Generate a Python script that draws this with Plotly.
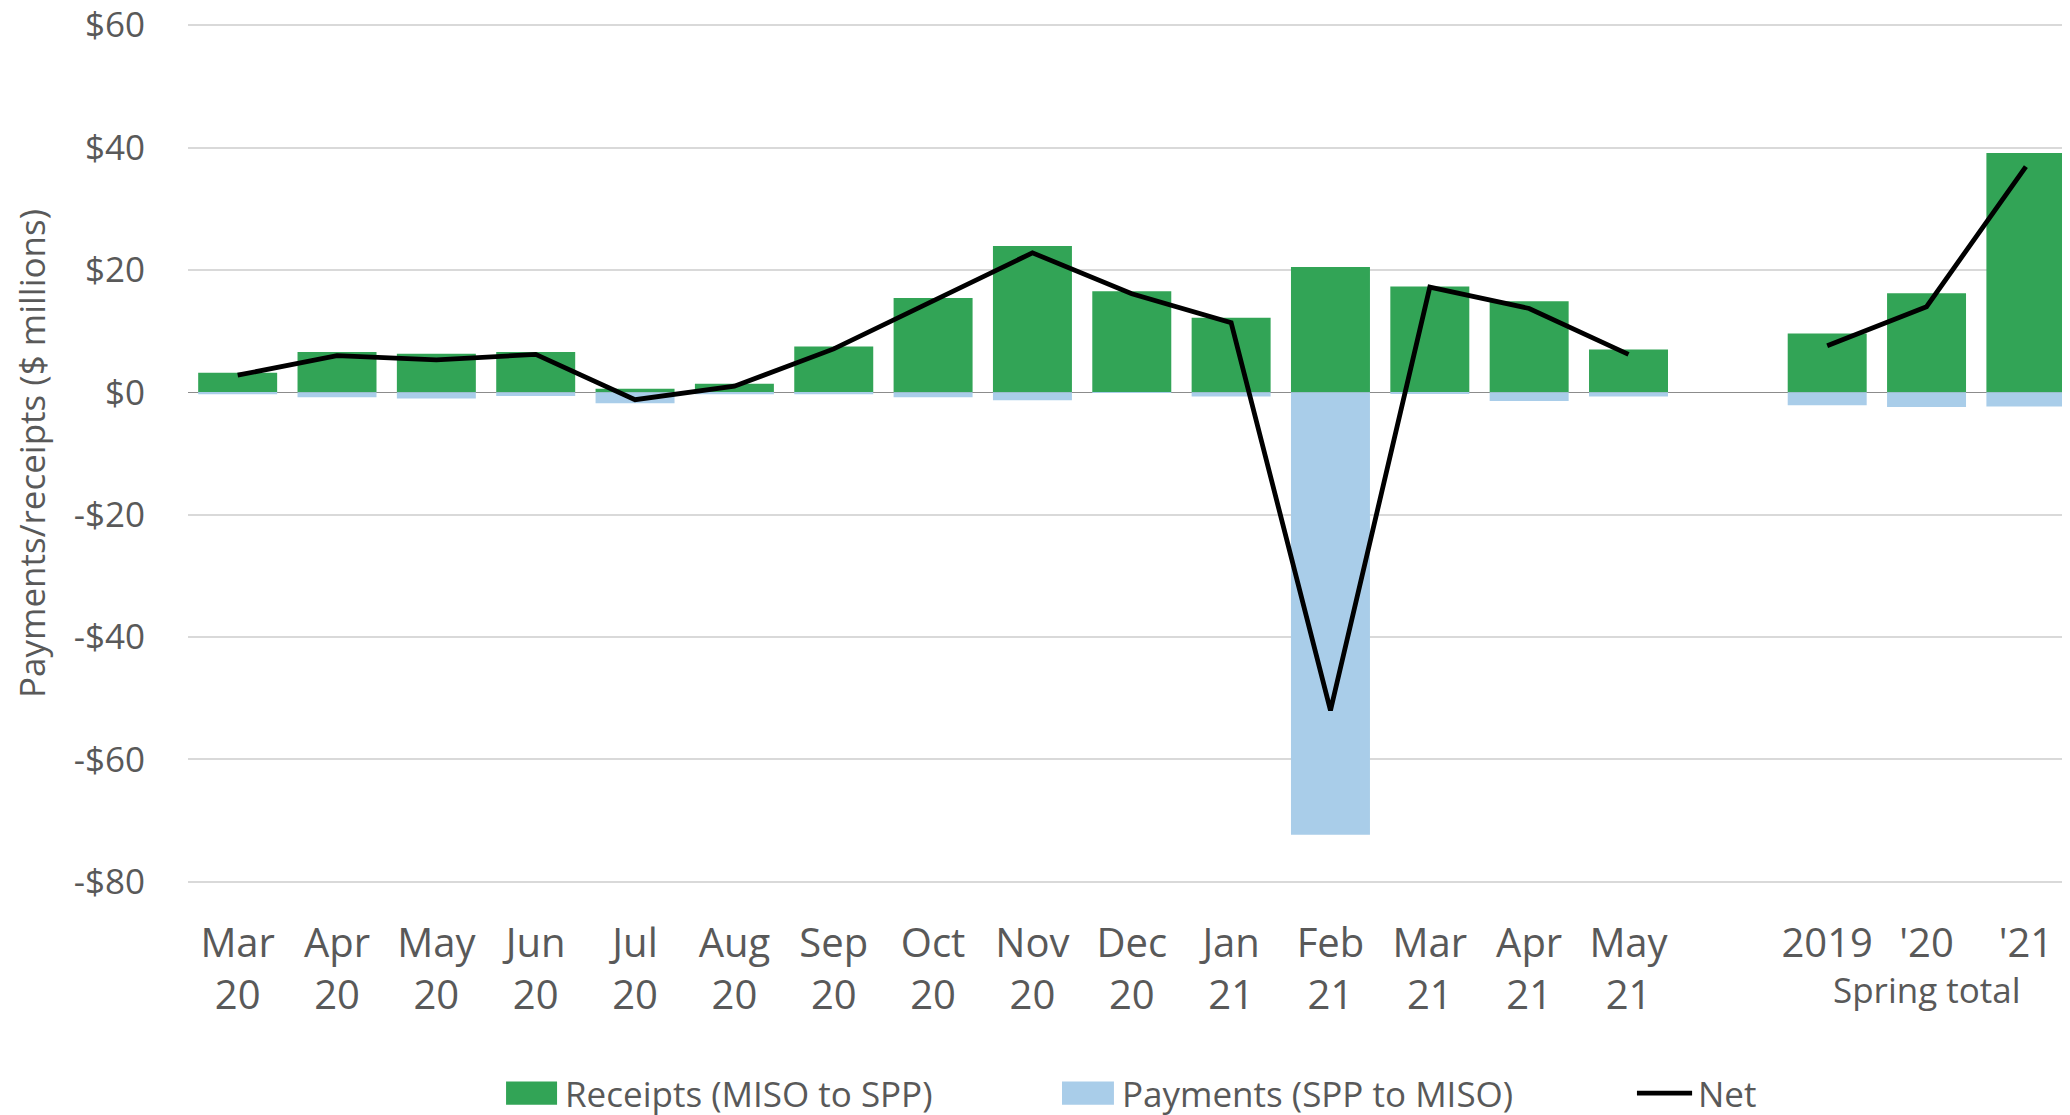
import plotly.graph_objects as go

# categories: 15 months, a blank spacer, then 3 spring totals
categories = ["Mar<br>20", "Apr<br>20", "May<br>20", "Jun<br>20", "Jul<br>20", "Aug<br>20",
              "Sep<br>20", "Oct<br>20", "Nov<br>20", "Dec<br>20", "Jan<br>21", "Feb<br>21",
              "Mar<br>21", "Apr<br>21", "May<br>21", " ", "2019", "'20", "'21"]

receipts = [3.2, 6.6, 6.3, 6.6, 0.6, 1.4, 7.5, 15.4, 23.9, 16.5, 12.2, 20.5,
            17.3, 14.9, 7.0, None, 9.6, 16.2, 39.1]
payments = [-0.3, -0.8, -1.0, -0.6, -1.8, -0.3, -0.3, -0.8, -1.3, -0.1, -0.7, -72.3,
            -0.2, -1.4, -0.7, None, -2.1, -2.4, -2.3]
net = [2.8, 6.0, 5.3, 6.2, -1.2, 1.0, 7.1, 14.9, 22.8, 16.1, 11.4, -52.0,
       17.2, 13.7, 6.2, None, 7.6, 14.0, 36.9]

y_ticks = [-80, -60, -40, -20, 0, 20, 40, 60]
y_tick_labels = ["-$80", "-$60", "-$40", "-$20", "$0", "$20", "$40", "$60"]

legend_names = ["Receipts (MISO to SPP)", "Payments (SPP to MISO)", "Net"]

GREEN = "#32A456"
BLUE = "#A9CDE9"
TEXT = "#595959"
FONT = "Open Sans"

fig = go.Figure()
fig.add_trace(go.Bar(x=categories, y=receipts, name=legend_names[0],
                     marker=dict(color=GREEN, line_width=0)))
fig.add_trace(go.Bar(x=categories, y=payments, name=legend_names[1],
                     marker=dict(color=BLUE, line_width=0)))
fig.add_trace(go.Scatter(x=categories, y=net, name=legend_names[2], mode="lines",
                         line=dict(color="black", width=4.8), connectgaps=False))

fig.add_annotation(text="Spring total", x="'20", xref="x", y=-0.1235, yref="paper",
                   yanchor="middle", showarrow=False,
                   font=dict(size=35, color=TEXT, family=FONT))

# legend drawn by hand so the swatches can be wide blocks like the original
leg_y, leg_h = -0.2446, 0.0135
swatches = [(0.1690, 0.1961, GREEN), (0.4644, 0.4920, BLUE)]
for x0, x1, col in swatches:
    fig.add_shape(type="rect", xref="paper", yref="paper", x0=x0, x1=x1,
                  y0=leg_y - leg_h, y1=leg_y + leg_h, fillcolor=col, line_width=0)
fig.add_shape(type="line", xref="paper", yref="paper", x0=0.7699, x1=0.7992,
              y0=leg_y, y1=leg_y, line=dict(color="black", width=4.8))
for name, x in zip(legend_names, [0.1993, 0.4952, 0.8013]):
    fig.add_annotation(text=name, x=x, xref="paper", xanchor="left", y=leg_y, yref="paper",
                       yanchor="middle", showarrow=False,
                       font=dict(size=35, color=TEXT, family=FONT))

# page body has an 8px margin, so the margins are shifted to compensate
fig.update_layout(
    width=2070, height=1115,
    barmode="relative",
    bargap=0.205,
    showlegend=False,
    plot_bgcolor="white",
    paper_bgcolor="white",
    margin=dict(l=180, r=8, t=16, b=240),
    font=dict(family=FONT, color=TEXT),
)
fig.update_xaxes(type="category", range=[-0.5, 18.444], showgrid=False, showline=False,
                 automargin=False, tickfont=dict(size=40, color=TEXT), ticks="",
                 ticklabelstandoff=33)
fig.update_yaxes(range=[-80.2, 60.2], tickvals=y_ticks, ticktext=y_tick_labels,
                 automargin=False, ticklabeloverflow="allow",
                 showgrid=True, gridcolor="#D9D9D9", gridwidth=1.5,
                 zeroline=True, zerolinecolor="#8C8C8C", zerolinewidth=1.2,
                 tickfont=dict(size=35, color=TEXT), ticklabelstandoff=42,
                 title=dict(text="Payments/receipts ($ millions)",
                            font=dict(size=35, color=TEXT), standoff=22))

fig.write_html("out.html")
